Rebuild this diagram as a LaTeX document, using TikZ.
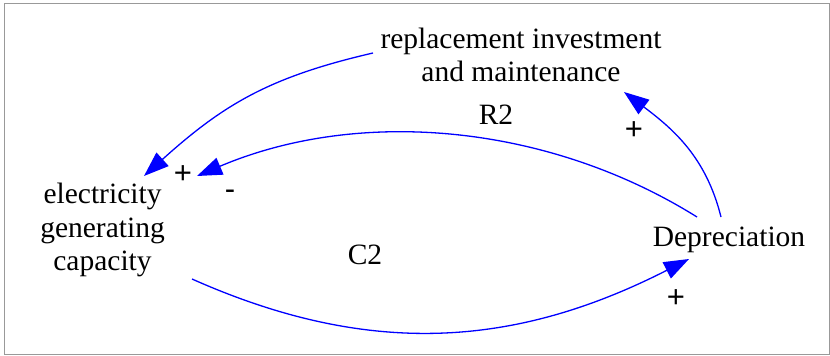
\documentclass[tikz,border=0pt]{standalone}
\usepackage{fontspec}
\setmainfont{Liberation Serif}
\newfontfamily\signfont{Liberation Sans}
\usetikzlibrary{arrows.meta}

\begin{document}
\begin{tikzpicture}[
    x=1pt, y=1pt,
    var/.style={align=center, inner sep=0pt,
                font=\fontsize{29.5}{33.5}\selectfont},
    loopname/.style={inner sep=0pt, font=\fontsize{29.5}{33.5}\selectfont},
    sign/.style={inner sep=0pt, font=\signfont\fontsize{31}{35}\selectfont},
    link/.style={draw=blue, line width=1.3pt,
                 -{Triangle[length=25pt, width=18pt]}}
  ]
  \useasboundingbox (0,0) rectangle (830,356);
  \draw[black!40, line width=1pt] (4.5,1) rectangle (829,352);

  \node[var] (elec) at (102.5,126) {electricity\\generating\\capacity};
  \node[var] (repl) at (521,301) {replacement investment\\and maintenance};
  \node[var] (dep)  at (729,116) {Depreciation};

  \node[loopname] (R2) at (496,241) {R2};
  \node[loopname] (C2) at (365,101) {C2};

  \draw[link] ([shift={(-148,2)}]repl.center)
    to[out=193, in=42, looseness=1.05] ([shift={(41.5,54)}]elec.center);
  \draw[link] ([shift={(-32,23)}]dep.center)
    to[out=148, in=23, looseness=0.9] ([shift={(94.5,54)}]elec.center);
  \draw[link] ([shift={(89.5,-49)}]elec.center)
    to[out=-24, in=207] ([shift={(-40,-19)}]dep.center);
  \draw[link] ([shift={(-8,23)}]dep.center)
    to[out=104, in=-37] ([shift={(103,-37)}]repl.center);

  % polarities
  \node[sign] (s1) at (183,181) {+};
  \node[sign] (s2) at (230,161.5) {-};
  \node[sign] (s3) at (676,57.5) {+};
  \node[sign] (s4) at (634,225) {+};
\end{tikzpicture}
\end{document}
